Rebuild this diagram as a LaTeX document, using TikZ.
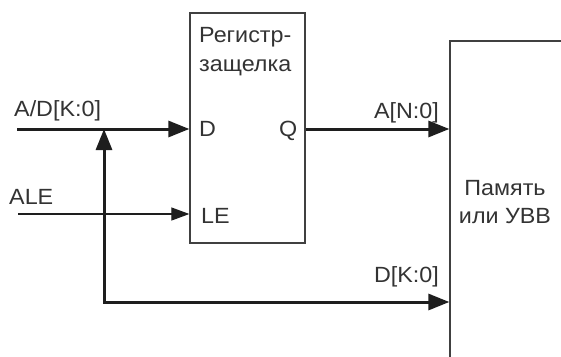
\documentclass[tikz,border=0pt]{standalone}
\usepackage{fontspec}
\setmainfont{Liberation Sans}[FakeStretch=1.06]
\usetikzlibrary{arrows.meta}
\definecolor{ink}{HTML}{1E1E1E}
\definecolor{txt}{HTML}{333333}
\definecolor{frame}{HTML}{404040}
\tikzset{
  box/.style={draw=frame, line width=1.3pt, rectangle, inner sep=0pt},
  bus/.style={draw=ink, line width=3pt, -{Triangle[length=21pt,width=16pt]}},
  sig/.style={draw=ink, line width=1.2pt, -{Triangle[length=18pt,width=13pt]}},
  lbl/.style={text=txt, inner sep=0pt, font=\fontsize{22}{26}\selectfont},
}
\begin{document}
\begin{tikzpicture}[x=1pt,y=-1pt]
\clip (0,0) rectangle (561,356);
\fill[white] (0,0) rectangle (561,356);
% blocks
\node[box, minimum width=115pt, minimum height=230pt] (reg) at (247.5,128) {};
\node[box, minimum width=170pt, minimum height=359pt] (mem) at (535,220.5) {};
% coordinates
\coordinate (adin) at (17,129);
\coordinate (alein) at (18,214);
\coordinate (corner) at (104,302);
% connectors
\draw[bus] (adin) -- (adin -| reg.west);
\draw[sig] (alein) -- (alein -| reg.west);
\draw[bus] (reg.east |- adin) -- (adin -| mem.west);
\draw[bus] (corner) -- (corner |- adin);
\draw[draw=ink, line width=3pt, line cap=rect] (corner) -- ++(0,0.01);
\draw[bus] (corner) -- (corner -| mem.west);
% labels
\node[lbl, anchor=base west] (tad) at (14,116) {A/D[K:0]};
\node[lbl, anchor=base west] (tale) at (9,204) {ALE};
\node[lbl, anchor=base west] (treg1) at (199,42) {Регистр-};
\node[lbl, anchor=base west] (treg2) at (199,71) {защелка};
\node[lbl, anchor=base west] (td) at (199,136) {D};
\node[lbl, anchor=base west] (tq) at (279,136) {Q};
\node[lbl, anchor=base west] (tle) at (201,223) {LE};
\node[lbl, anchor=base east] (tan) at (439,118) {A[N:0]};
\node[lbl, anchor=base east] (tdk) at (439,282) {D[K:0]};
\node[lbl, anchor=base] (tm1) at (505,195) {Память};
\node[lbl, anchor=base] (tm2) at (505,223) {или УВВ};
\end{tikzpicture}
\end{document}
